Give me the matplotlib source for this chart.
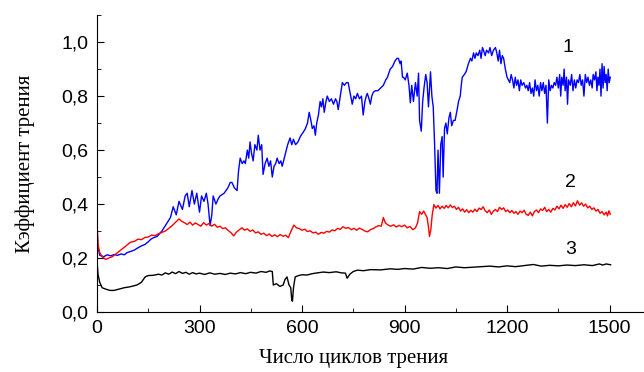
import matplotlib.pyplot as plt
from matplotlib.ticker import MultipleLocator, FuncFormatter

# Curve 1 (blue)
x1 = [0, 3, 8, 20, 30, 40, 50, 60, 70, 80, 88, 100, 110, 120, 130, 140, 150, 158, 165, 176,
      190, 205, 215, 223, 232, 240, 250, 258,
      264, 270, 278, 285, 292, 300, 306, 313, 320, 325, 331, 336, 340, 348, 355, 360, 372, 383, 390, 395,
      402, 410, 414, 419, 425, 430, 434, 440, 444, 448, 452, 457, 462, 468, 472, 477, 482, 486, 492, 498,
      503, 508, 513, 518, 523, 527, 533, 538, 542, 550, 558, 565, 570, 575, 581, 588, 595, 600, 604, 610,
      616, 621, 626, 630, 635, 639, 643, 648, 653, 657, 661, 665, 670, 674, 680, 686, 692, 698, 702, 706,
      712, 718, 724, 730, 735, 741, 747, 752, 757, 762, 768, 774, 779, 784, 788, 791, 796, 800, 804, 809,
      815, 822, 830, 838, 845, 850, 858, 865, 872, 878, 882, 887, 890, 894, 897, 902, 908, 913, 917, 921,
      926, 932, 937, 941, 944, 949, 953, 957, 962, 966, 970, 976, 980, 984, 988, 992, 995, 998, 1002, 1006,
      1010, 1013, 1017, 1021, 1025, 1030, 1034, 1038, 1043, 1048, 1054, 1058, 1063, 1066, 1069, 1075, 1080, 1087, 1093, 1097,
      1102, 1106, 1110, 1115, 1120, 1124, 1128, 1131, 1136, 1140, 1146, 1150, 1155, 1160, 1166, 1170, 1174, 1178, 1182, 1186,
      1190, 1195, 1200, 1204, 1208, 1212, 1216, 1220, 1224, 1228, 1232, 1236, 1240, 1244, 1249, 1254, 1258, 1262, 1266, 1270,
      1274, 1278, 1282, 1286, 1290, 1294, 1298, 1302, 1306, 1310, 1314, 1318, 1322, 1326, 1330, 1334, 1338, 1342, 1346, 1350,
      1354, 1357, 1360, 1364, 1367, 1370, 1374, 1377, 1380, 1385, 1389, 1393, 1397, 1401, 1405, 1409, 1413, 1417, 1421, 1425,
      1429, 1433, 1437, 1441, 1445, 1449, 1452, 1456, 1460, 1463, 1466, 1469, 1472, 1475, 1478, 1481, 1484, 1487, 1490, 1493,
      1496, 1499, 1502]
y1 = [0.31, 0.24, 0.21, 0.205, 0.212, 0.208, 0.213, 0.21, 0.215, 0.212, 0.22, 0.225, 0.23, 0.238, 0.245, 0.25, 0.26, 0.27, 0.275, 0.28,
      0.30, 0.33, 0.35, 0.39, 0.36, 0.41, 0.38, 0.43,
      0.44, 0.39, 0.45, 0.40, 0.44, 0.37, 0.43, 0.41, 0.44, 0.40, 0.32, 0.36, 0.43, 0.40, 0.42, 0.43, 0.44, 0.46, 0.48, 0.48,
      0.46, 0.45, 0.52, 0.57, 0.55, 0.56, 0.55, 0.60, 0.57, 0.63, 0.59, 0.56, 0.62, 0.60, 0.655, 0.60, 0.62, 0.51, 0.55, 0.57,
      0.54, 0.56, 0.50, 0.54, 0.55, 0.57, 0.55, 0.56, 0.54, 0.58, 0.62, 0.645, 0.62, 0.64, 0.62, 0.63, 0.65, 0.66, 0.667, 0.68,
      0.70, 0.74, 0.71, 0.68, 0.69, 0.655, 0.70, 0.73, 0.78, 0.76, 0.79, 0.74, 0.78, 0.80, 0.78, 0.79, 0.77, 0.79, 0.78, 0.75,
      0.80, 0.85, 0.84, 0.85, 0.85, 0.81, 0.77, 0.80, 0.79, 0.81, 0.79, 0.80, 0.73, 0.78, 0.80, 0.81, 0.79, 0.77, 0.80, 0.815,
      0.82, 0.82, 0.83, 0.84, 0.86, 0.87, 0.90, 0.91, 0.93, 0.94, 0.94, 0.92, 0.93, 0.87, 0.87, 0.86, 0.885, 0.84, 0.775, 0.84,
      0.78, 0.85, 0.80, 0.885, 0.71, 0.67, 0.78, 0.83, 0.88, 0.85, 0.76, 0.89, 0.80, 0.76, 0.62, 0.45, 0.44, 0.60, 0.44, 0.62,
      0.65, 0.50, 0.68, 0.70, 0.66, 0.72, 0.74, 0.69, 0.71, 0.71, 0.75, 0.78, 0.80, 0.84, 0.87, 0.88, 0.89, 0.92, 0.94, 0.93,
      0.96, 0.94, 0.96, 0.95, 0.97, 0.94, 0.98, 0.97, 0.95, 0.97, 0.96, 0.98, 0.95, 0.97, 0.98, 0.96, 0.93, 0.97, 0.92, 0.95,
      0.94, 0.90, 0.87, 0.86, 0.85, 0.88, 0.86, 0.83, 0.87, 0.84, 0.86, 0.82, 0.86, 0.84, 0.85, 0.83, 0.84, 0.82, 0.85, 0.81,
      0.83, 0.80, 0.86, 0.82, 0.84, 0.80, 0.85, 0.82, 0.85, 0.81, 0.84, 0.70, 0.86, 0.82, 0.84, 0.83, 0.85, 0.84, 0.87, 0.83,
      0.88, 0.80, 0.87, 0.84, 0.90, 0.82, 0.87, 0.77, 0.86, 0.84, 0.88, 0.82, 0.86, 0.83, 0.86, 0.85, 0.88, 0.84, 0.86, 0.80,
      0.88, 0.85, 0.87, 0.84, 0.86, 0.83, 0.88, 0.86, 0.89, 0.82, 0.87, 0.84, 0.90, 0.80, 0.92, 0.83, 0.91, 0.85, 0.88, 0.82,
      0.90, 0.85, 0.87]

# Curve 2 (red)
x2 = [0, 3, 8, 15, 25, 35, 45, 55, 65, 75, 85, 97, 110, 120, 130, 140, 150, 160, 170, 180,
      190, 200, 210, 220,
      232, 240, 248, 256, 264, 272, 280, 288, 296, 304, 312, 320, 328, 336, 344, 352, 360, 368, 376, 384,
      392, 400, 408, 416, 424, 432, 440, 448, 456, 464, 472, 480, 488, 496, 504, 512, 520, 528, 536, 544,
      552, 560, 568, 576, 584, 592, 600, 608, 616, 624, 632, 640, 648, 656, 664, 672, 680, 688, 696, 704,
      712, 720, 728, 736, 744, 752, 760, 768, 776, 784, 792, 800, 808, 816, 824, 832, 838, 844, 852, 860,
      868, 876, 884, 892, 900, 908, 916, 924, 932, 938, 944, 950, 956, 962, 966, 970, 973, 977, 981, 986,
      992, 998, 1004, 1010, 1016, 1022, 1028, 1034, 1040, 1046, 1052, 1058, 1064, 1070, 1076, 1082, 1088, 1094, 1100, 1106,
      1112, 1118, 1124, 1130, 1136, 1142, 1148, 1154, 1160, 1166, 1172, 1178, 1184, 1190, 1196, 1202, 1208, 1214, 1220, 1226,
      1232, 1238, 1244, 1250, 1256, 1262, 1268, 1274, 1280, 1286, 1292, 1298, 1304, 1310, 1316, 1322, 1328, 1334, 1340, 1346,
      1352, 1358, 1364, 1370, 1376, 1382, 1388, 1394, 1400, 1406, 1412, 1418, 1424, 1430, 1436, 1442, 1448, 1454, 1460, 1466,
      1472, 1478, 1484, 1490, 1494, 1498, 1502]
y2 = [0.34, 0.25, 0.22, 0.205, 0.195, 0.20, 0.205, 0.215, 0.225, 0.235, 0.245, 0.258, 0.262, 0.27, 0.268, 0.276, 0.278, 0.285, 0.283, 0.29,
      0.295, 0.30, 0.31, 0.32,
      0.335, 0.345, 0.336, 0.331, 0.324, 0.333, 0.322, 0.330, 0.324, 0.318, 0.331, 0.322, 0.328, 0.318, 0.325, 0.314, 0.318, 0.309, 0.312, 0.302,
      0.294, 0.282, 0.296, 0.304, 0.312, 0.303, 0.308, 0.299, 0.304, 0.293, 0.297, 0.288, 0.292, 0.283, 0.289, 0.280, 0.286, 0.279, 0.287, 0.281,
      0.284, 0.276, 0.300, 0.322, 0.312, 0.309, 0.303, 0.307, 0.298, 0.301, 0.293, 0.296, 0.288, 0.295, 0.292, 0.299, 0.296, 0.304, 0.301, 0.310,
      0.306, 0.316, 0.310, 0.313, 0.305, 0.310, 0.303, 0.311, 0.306, 0.300, 0.297, 0.305, 0.309, 0.315, 0.320, 0.318, 0.350, 0.330, 0.322, 0.318,
      0.323, 0.315, 0.321, 0.316, 0.322, 0.312, 0.317, 0.305, 0.312, 0.330, 0.372, 0.362, 0.374, 0.360, 0.350, 0.315, 0.280, 0.305, 0.360, 0.398,
      0.385, 0.395, 0.382, 0.392, 0.384, 0.395, 0.386, 0.397, 0.387, 0.392, 0.380, 0.388, 0.374, 0.382, 0.370, 0.379, 0.368, 0.377, 0.370, 0.381,
      0.372, 0.385, 0.380, 0.390, 0.375, 0.368, 0.378, 0.362, 0.374, 0.380, 0.372, 0.388, 0.380, 0.386, 0.372, 0.378, 0.368, 0.376, 0.366, 0.372,
      0.362, 0.374, 0.368, 0.377, 0.362, 0.358, 0.370, 0.356, 0.372, 0.378, 0.368, 0.382, 0.376, 0.388, 0.372, 0.380, 0.370, 0.384, 0.378, 0.392,
      0.382, 0.396, 0.384, 0.398, 0.388, 0.402, 0.390, 0.405, 0.393, 0.412, 0.396, 0.404, 0.392, 0.400, 0.386, 0.392, 0.380, 0.386, 0.374, 0.380,
      0.366, 0.372, 0.360, 0.370, 0.356, 0.375, 0.362]

# Curve 3 (black)
x3 = [0, 3, 8, 15, 25, 38, 50, 65, 80, 95, 117, 130, 141, 150, 165, 180, 190, 200, 210, 220,
      230, 240, 250, 260, 270, 280, 290, 300, 315, 330, 345, 360, 375, 390, 405, 420, 435, 450, 465, 480,
      495, 505, 513, 516, 525, 535, 545, 550, 556, 562, 567, 570, 572, 575, 580, 590, 600, 615, 630, 645,
      662, 680, 700, 715, 727, 732, 740, 750, 762, 780, 800, 830, 858, 880, 900, 925, 950, 975, 1000, 1025,
      1050, 1075, 1100, 1125, 1150, 1175, 1200, 1225, 1250, 1277, 1300, 1325, 1350, 1375, 1400, 1425, 1450, 1470, 1480, 1490,
      1503]
y3 = [0.19, 0.14, 0.11, 0.09, 0.085, 0.08, 0.08, 0.085, 0.09, 0.093, 0.10, 0.11, 0.13, 0.135, 0.136, 0.14, 0.137, 0.145, 0.14, 0.148,
      0.142, 0.15, 0.143, 0.147, 0.14, 0.146, 0.141, 0.144, 0.139, 0.145, 0.14, 0.143, 0.139, 0.144, 0.141, 0.146, 0.142, 0.147, 0.144, 0.15,
      0.147, 0.152, 0.15, 0.10, 0.105, 0.095, 0.10, 0.12, 0.13, 0.10, 0.09, 0.045, 0.04, 0.09, 0.13, 0.135, 0.138, 0.137, 0.142, 0.145,
      0.148, 0.146, 0.149, 0.145, 0.144, 0.125, 0.14, 0.15, 0.155, 0.153, 0.157, 0.156, 0.16, 0.158, 0.161, 0.159, 0.165, 0.162, 0.164, 0.161,
      0.167, 0.164, 0.166, 0.168, 0.17, 0.167, 0.171, 0.168, 0.172, 0.176, 0.17, 0.173, 0.171, 0.174, 0.172, 0.175, 0.172, 0.178, 0.174, 0.178,
      0.175]

curve_labels = ["1", "2", "3"]
label_x = [1377, 1386, 1386]
label_y = [0.98, 0.48, 0.23]

fig = plt.figure(figsize=(6.44, 3.72), dpi=100)
ax = fig.add_axes([0.1506, 0.1613, 0.849, 0.798])

ax.plot(x1, y1, color="#0000ff", lw=1.0)
ax.plot(x2, y2, color="#ff0000", lw=1.0)
ax.plot(x3, y3, color="black", lw=1.0)

for t, lx, ly in zip(curve_labels, label_x, label_y):
    ax.text(lx, ly, t, fontsize=14, family="Liberation Sans", ha="center", va="center")

ax.set_xlim(0, 1600)
ax.set_ylim(0, 1.1)
ax.spines["top"].set_visible(False)
ax.spines["right"].set_visible(False)

ax.xaxis.set_major_locator(MultipleLocator(300))
ax.xaxis.set_minor_locator(MultipleLocator(150))
ax.yaxis.set_major_locator(MultipleLocator(0.2))
ax.yaxis.set_minor_locator(MultipleLocator(0.1))
ax.yaxis.set_major_formatter(FuncFormatter(lambda v, p: f"{v:.1f}".replace(".", ",")))
ax.tick_params(which="both", direction="in", top=False, right=False)
ax.tick_params(which="major", length=5, labelsize=14, pad=6)
ax.tick_params(which="minor", length=3)
for lab in ax.get_xticklabels() + ax.get_yticklabels():
    lab.set_family("Liberation Sans")

ax.set_xlabel("Число циклов трения", family="Liberation Serif", fontsize=15)
ax.set_ylabel("Кэффициент трения", family="Liberation Serif", fontsize=15)
ax.xaxis.set_label_coords(0.469, -0.125)
ax.yaxis.set_label_coords(-0.114, 0.5)

fig.savefig("out.png", dpi=100)
